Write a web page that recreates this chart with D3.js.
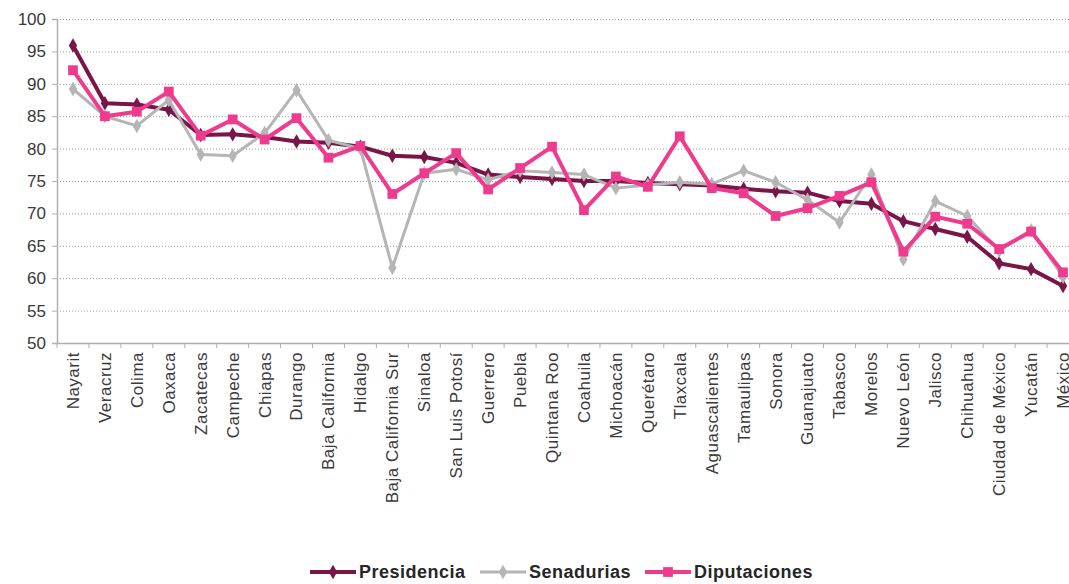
<!DOCTYPE html>
<html>
<head>
<meta charset="utf-8">
<script src="https://cdn.jsdelivr.net/npm/d3@7"></script>
<style>
  body { margin: 0; background: #fff; }
  text { font-family: "Liberation Sans", Arial, sans-serif; }
</style>
</head>
<body>
<div id="chart"></div>
<script>
// Data
const estados = ["Nayarit", "Veracruz", "Colima", "Oaxaca", "Zacatecas", "Campeche", "Chiapas", "Durango",
  "Baja California", "Hidalgo", "Baja California Sur", "Sinaloa", "San Luis Potosí", "Guerrero", "Puebla",
  "Quintana Roo", "Coahuila", "Michoacán", "Querétaro", "Tlaxcala", "Aguascalientes", "Tamaulipas", "Sonora",
  "Guanajuato", "Tabasco", "Morelos", "Nuevo León", "Jalisco", "Chihuahua", "Ciudad de México", "Yucatán", "México"];

const presidencia = [95.9, 87.0, 86.8, 86.0, 82.1, 82.2, 81.8, 81.1, 80.9, 80.3, 78.9, 78.7, 77.8, 76.0, 75.6,
  75.3, 75.0, 75.0, 74.7, 74.5, 74.3, 73.8, 73.4, 73.2, 71.9, 71.5, 68.8, 67.6, 66.4, 62.3, 61.4, 58.8];

const senadurias = [89.2, 85.0, 83.5, 87.5, 79.1, 78.9, 82.4, 89.0, 81.3, 80.0, 61.6, 76.2, 76.8, 75.2, 76.6,
  76.3, 76.0, 73.9, 74.4, 74.8, 74.5, 76.6, 74.8, 72.1, 68.6, 76.0, 62.9, 71.9, 69.6, 64.2, 67.4, 60.2];

const diputaciones = [92.1, 85.0, 85.7, 88.8, 82.0, 84.5, 81.4, 84.7, 78.6, 80.4, 73.0, 76.2, 79.3, 73.7, 77.0,
  80.3, 70.5, 75.7, 74.1, 81.9, 73.9, 73.1, 69.6, 70.8, 72.7, 74.8, 64.1, 69.5, 68.4, 64.5, 67.2, 60.9];

const yTicks = [50, 55, 60, 65, 70, 75, 80, 85, 90, 95, 100];

const series = [
  { name: "Presidencia", values: presidencia, color: "#7a1548", width: 4, symbol: d3.symbolDiamond, size: 60 },
  { name: "Senadurias", values: senadurias, color: "#b5b5b5", width: 3, symbol: d3.symbolDiamond, size: 60 },
  { name: "Diputaciones", values: diputaciones, color: "#ef3b8d", width: 4, symbol: d3.symbolSquare, size: 95 }
];

const W = 1069, H = 584;
const plotLeft = 57, plotRight = 1079, plotTop = 19, plotBottom = 343;

const svg = d3.select("#chart").append("svg")
  .attr("width", W)
  .attr("height", H);

const x = d3.scaleBand().domain(estados).range([plotLeft, plotRight]);
const y = d3.scaleLinear().domain([50, 100]).range([plotBottom, plotTop]);

// gridlines
svg.append("g")
  .selectAll("line")
  .data(yTicks.filter(t => t > 50))
  .enter().append("line")
  .attr("x1", plotLeft)
  .attr("x2", W)
  .attr("y1", d => y(d) + 0.5)
  .attr("y2", d => y(d) + 0.5)
  .attr("stroke", "#9a9a9a")
  .attr("stroke-width", 1)
  .attr("stroke-dasharray", "1,2");

// y axis
const yAxis = svg.append("g")
  .attr("transform", `translate(${plotLeft},0)`)
  .call(d3.axisLeft(y).tickValues(yTicks).tickSize(5).tickPadding(6));
yAxis.select(".domain").attr("stroke", "#b0b0b0").attr("stroke-width", 1.5);
yAxis.selectAll(".tick line").attr("stroke", "#b0b0b0");
yAxis.selectAll("text")
  .style("font-size", "17px")
  .attr("fill", "#3a3a3a");

// x axis
const xAxis = svg.append("g")
  .attr("transform", `translate(0,${plotBottom})`)
  .call(d3.axisBottom(x).tickSize(0).tickPadding(9));
xAxis.select(".domain").attr("stroke", "#b0b0b0").attr("stroke-width", 1.5);
xAxis.selectAll("text")
  .style("font-size", "17px")
  .style("letter-spacing", "0.5px")
  .attr("fill", "#3a3a3a")
  .attr("transform", "rotate(-90)")
  .attr("text-anchor", "end")
  .attr("x", -9)
  .attr("y", 0)
  .attr("dy", "0.35em");

// tick marks between categories
svg.append("g")
  .selectAll("line")
  .data(estados)
  .enter().append("line")
  .attr("x1", d => x(d))
  .attr("x2", d => x(d))
  .attr("y1", plotBottom)
  .attr("y2", plotBottom + 5)
  .attr("stroke", "#b0b0b0");

// lines and markers
const line = d3.line()
  .x((d, i) => x(estados[i]) + x.bandwidth() / 2)
  .y(d => y(d));

series.forEach(s => {
  svg.append("path")
    .datum(s.values)
    .attr("fill", "none")
    .attr("stroke", s.color)
    .attr("stroke-width", s.width)
    .attr("stroke-linejoin", "round")
    .attr("d", line);

  svg.append("g")
    .selectAll("path")
    .data(s.values)
    .enter().append("path")
    .attr("d", d3.symbol().type(s.symbol).size(s.size))
    .attr("transform", (d, i) => `translate(${x(estados[i]) + x.bandwidth() / 2},${y(d)})`)
    .attr("fill", s.color);
});

// legend
const legendX = [310, 480, 645];
const legend = svg.append("g");
series.forEach((s, i) => {
  const g = legend.append("g").attr("transform", `translate(${legendX[i]},572)`);
  g.append("line")
    .attr("x1", 0).attr("x2", 46)
    .attr("y1", 0).attr("y2", 0)
    .attr("stroke", s.color)
    .attr("stroke-width", s.width);
  g.append("path")
    .attr("d", d3.symbol().type(s.symbol).size(s.size))
    .attr("transform", "translate(23,0)")
    .attr("fill", s.color);
  g.append("text")
    .attr("x", 49)
    .attr("y", 0)
    .attr("dy", "0.36em")
    .style("font-size", "18px")
    .style("font-weight", "bold")
    .style("letter-spacing", "0.5px")
    .attr("fill", "#262626")
    .text(s.name);
});
</script>
</body>
</html>
